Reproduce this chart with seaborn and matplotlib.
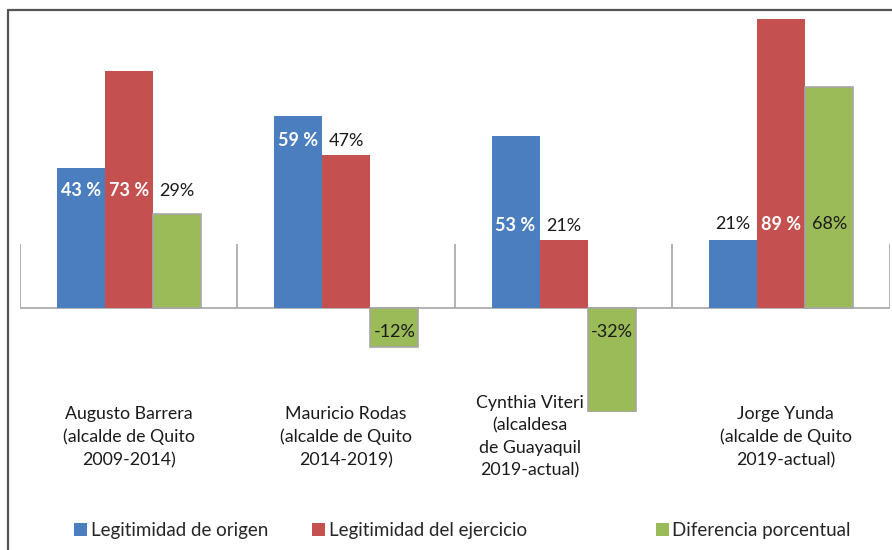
import matplotlib
matplotlib.use("Agg")
import matplotlib.pyplot as plt
from matplotlib.patches import Patch
from matplotlib.lines import Line2D
import seaborn as sns
import pandas as pd

# datos
alcaldes = [
    "Augusto Barrera\n(alcalde de Quito\n2009-2014)",
    "Mauricio Rodas\n(alcalde de Quito\n2014-2019)",
    "Cynthia Viteri\n(alcaldesa\nde Guayaquil\n2019-actual)",
    "Jorge Yunda\n(alcalde de Quito\n2019-actual)",
]
series = ["Legitimidad de origen", "Legitimidad del ejercicio", "Diferencia porcentual"]
origen = [43, 59, 53, 21]
ejercicio = [73, 47, 21, 89]
diferencia = [29, -12, -32, 68]

colores = ["#4A7EBF", "#C4504F", "#9BBB59"]

# altura de las etiquetas (posiciones a mano, como en el original)
label_y = [36, 51.5, 25.3, 25.8]
label_y_neg = -7.4
# desplazamiento horizontal del nombre (Viteri va corrido a la izquierda)
nombre_dx = [0, 0, -0.155, 0.02]

sns.set_theme(style="white")
plt.rcParams["font.family"] = ["Lato", "DejaVu Sans"]

valores = [origen, ejercicio, diferencia]
df = pd.DataFrame({
    "alcalde": alcaldes * 3,
    "serie": [s for s in series for _ in alcaldes],
    "valor": origen + ejercicio + diferencia,
})

fig = plt.figure(figsize=(8.92, 5.5), dpi=100)
ax = fig.add_axes([0.0224, 0.2509, 0.9753, 0.727])

sns.barplot(data=df, x="alcalde", y="valor", hue="serie", hue_order=series,
            order=alcaldes, palette=colores, width=0.664, gap=0,
            saturation=1, legend=False, ax=ax, linewidth=0, zorder=3)

# borde gris en las barras verdes
for p in ax.containers[2]:
    p.set_edgecolor("#A6A6A6")
    p.set_linewidth(1.2)

ax.set_xlim(-0.5, 3.5)
ax.set_ylim(-32, 91)
for s in ax.spines.values():
    s.set_visible(False)
ax.set_xticks([])
ax.set_yticks([])
ax.set_xlabel("")
ax.set_ylabel("")

# eje y marcas entre categorias
ax.axhline(0, color="#A6A6A6", lw=1.2, zorder=0.5)
ax.vlines([-0.5, 0.5, 1.5, 2.5, 3.5], 0, 19.7, color="#A6A6A6", lw=1.2, zorder=0.5)

# etiquetas de datos
for k, cont in enumerate(ax.containers):
    for i, p in enumerate(cont):
        v = valores[k][i]
        y = label_y[i] if v > 0 else label_y_neg
        xc = p.get_x() + p.get_width() / 2
        if k < 2 and y < v:
            ax.text(xc, y, f"{v} %", ha="center", va="center", color="white",
                    fontsize=13, fontweight="bold", zorder=5)
        else:
            ax.text(xc, y, f"{v}%", ha="center", va="center", color="#1A1A1A",
                    fontsize=13, zorder=5)

# nombres de categorias
for i, nombre in enumerate(alcaldes):
    ax.text(i + nombre_dx[i], -0.0625, nombre, transform=ax.get_xaxis_transform(),
            ha="center", va="center", fontsize=12.8, linespacing=1.5,
            color="#1A1A1A", zorder=1)

# leyenda
for s, c, x0 in zip(series, colores, [0.083, 0.35, 0.735]):
    fig.legend(handles=[Patch(facecolor=c, edgecolor="none", label=s)],
               loc="center left", bbox_to_anchor=(x0, 0.036), frameon=False,
               handlelength=0.7, handleheight=0.7, handletextpad=0.2,
               borderpad=0, borderaxespad=0, fontsize=13.5)

# marco del grafico
fig.add_artist(Line2D([0.009, 0.009], [0, 0.982], color="#555555", lw=1.6))
fig.add_artist(Line2D([0.009, 1.0], [0.982, 0.982], color="#555555", lw=1.6))

fig.savefig("out.png", dpi=100)
